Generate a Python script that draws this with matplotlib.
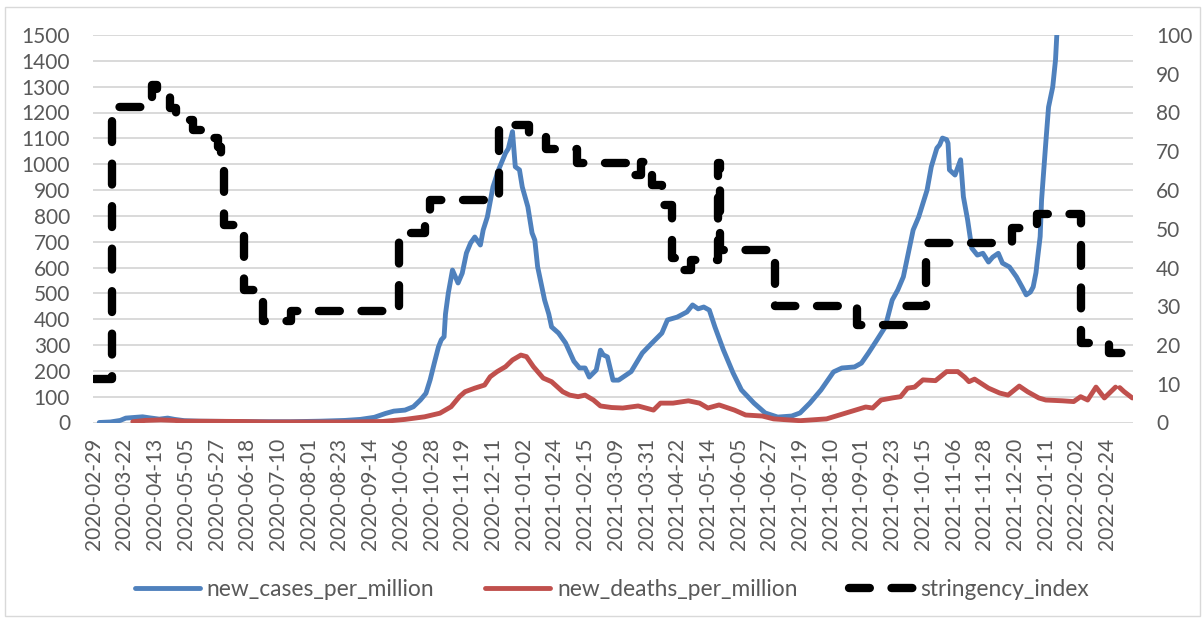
import numpy as np
import matplotlib
matplotlib.use("Agg")
import matplotlib.pyplot as plt
from matplotlib.patches import Rectangle

plt.rcParams['font.family'] = ['Lato', 'DejaVu Sans']

START = np.datetime64('2020-02-29')
END = np.datetime64('2022-03-14')

# new_cases_per_million (x = days since 2020-02-29)
case_days = [4, 12, 19, 23, 30, 35, 40, 47, 53, 58, 65, 76, 98, 119, 141, 162, 180, 191,
             201, 209, 215, 223, 229, 234, 238, 241, 244, 247, 249, 251, 252, 254, 257,
             261, 264, 267, 270, 273, 277, 279, 282, 286, 290, 295, 297, 300, 302, 305,
             307, 311, 314, 316, 318, 321, 323, 326, 328, 333, 338, 344, 348, 352, 355,
             360, 363, 365, 368, 372, 376, 385, 393, 400, 407, 411, 418, 425, 429, 433,
             437, 441, 445, 451, 458, 464, 473, 481, 490, 500, 506, 513, 521, 530, 536,
             545, 550, 555, 561, 567, 572, 576, 580, 583, 587, 591, 597, 600, 604, 606,
             608, 611, 612, 613, 617, 621, 623, 626, 629, 633, 637, 641, 644, 648, 651,
             656, 661, 665, 668, 671, 673, 675, 676, 678, 679, 682, 684, 687, 689, 690,
             692]
case_vals = [0, 2, 8, 17, 20, 22, 18, 13, 17, 12, 7, 5, 4, 3, 3, 5, 8, 12,
             20, 35, 44, 48, 61, 87, 113, 165, 230, 293, 320, 332, 420, 500, 590,
             540, 578, 656, 695, 718, 687, 745, 796, 912, 978, 1043, 1060, 1126, 990, 978,
             912, 835, 734, 706, 603, 525, 474, 420, 370, 346, 308, 237, 211, 211, 176,
             203, 280, 262, 254, 164, 164, 197, 269, 308, 346, 397, 408, 428, 455, 440,
             447, 435, 370, 282, 192, 126, 75, 37, 21, 25, 37, 75, 126, 196, 211,
             215, 230, 269, 319, 370, 474, 513, 564, 641, 745, 796, 900, 990, 1062, 1075,
             1101, 1095, 1081, 978, 958, 1017, 874, 785, 675, 648, 655, 621, 640, 655, 617,
             602, 564, 525, 494, 505, 525, 580, 629, 720, 861, 1081, 1221, 1299, 1404, 1508,
             1650]

# new_deaths_per_million (x = days since 2020-02-29); NaN = missing report
death_days = [28, 37, 48, 58, 64, 76, 105, 126, 148, 184, 207, 223, 237, 248, 256, 262,
              266, 273, 280, 284, 289, 295, 300, 306, 310, 315, 322, 328, 336, 341, 347,
              352, 358, 363, 371, 379, 390, 401, 406, 415, 426, 434, 440, 448, 459, 467,
              479, 487, 506, 525, 539, 553, 558, 564, 572, 578, 583, 588, 594, 603, 611,
              619, 624, 627, 631, 641, 649, 655, 663, 669, 677, 682, 694, 702, 707, 712,
              718, 724, 732, 733, 735, 738, 744]
death_vals = [3, 8, 10, 8, 5, 5, 4, 2, 2, 2, 4, 12, 22, 36, 61, 100,
              119, 133, 145, 177, 197, 216, 242, 261, 255, 216, 172, 158, 119, 106, 100,
              106, 87, 64, 58, 56, 64, 48, 75, 75, 84, 75, 56, 68, 48, 29,
              25, 14, 7, 14, 37, 60, 56, 87, 95, 100, 133, 137, 165, 162, 197,
              197, 175, 158, 168, 133, 114, 106, 141, 119, 95, 87, 84, 81, 100, 87,
              137, 95, 137, np.nan, 135, 120, 95]

# stringency_index: value in force from each listed day (days since 2020-02-29)
stringency_days = [0, 13, 42, 45, 55, 59, 71, 78, 89, 91, 93, 108, 121, 141, 219, 237,
                   241, 290, 312, 324, 346, 382, 392, 400, 407, 414, 421, 428, 447, 449,
                   488, 547, 581, 596, 658, 676, 707, 727, 744]
stringency_vals = [11.1, 81.5, 87.1, 84.3, 81.2, 78.1, 75.5, 73.4, 71.1, 67.0, 51.0, 34.2,
                   26.1, 28.7, 48.9, 54.6, 57.4, 76.8, 74.2, 70.6, 66.9, 63.9, 67.2, 61.3,
                   56.1, 42.4, 39.3, 41.9, 67.0, 44.5, 30.0, 25.2, 30.0, 46.3, 50.2, 53.9,
                   20.5, 17.9, 17.9]

tick_labels = ['2020-02-29', '2020-03-22', '2020-04-13', '2020-05-05', '2020-05-27',
               '2020-06-18', '2020-07-10', '2020-08-01', '2020-08-23', '2020-09-14',
               '2020-10-06', '2020-10-28', '2020-11-19', '2020-12-11', '2021-01-02',
               '2021-01-24', '2021-02-15', '2021-03-09', '2021-03-31', '2021-04-22',
               '2021-05-14', '2021-06-05', '2021-06-27', '2021-07-19', '2021-08-10',
               '2021-09-01', '2021-09-23', '2021-10-15', '2021-11-06', '2021-11-28',
               '2021-12-20', '2022-01-11', '2022-02-02', '2022-02-24']


def to_dates(days):
    return START + np.asarray(days).astype('timedelta64[D]')


BLUE = '#4f81bd'
RED = '#c0504d'
GRID = '#d9d9d9'
TEXT = '#595959'
FS = 15

fig = plt.figure(figsize=(12.04, 6.2), dpi=100)
W, H = 1204, 620
ax = fig.add_axes([93 / W, 1 - 422.5 / H, 1040 / W, 387.5 / H])

ax.plot(to_dates(case_days), case_vals, color=BLUE, lw=3.5,
        solid_joinstyle='round', solid_capstyle='round', label='new_cases_per_million')
ax.plot(to_dates(death_days), death_vals, color=RED, lw=3.5,
        solid_joinstyle='round', solid_capstyle='round', label='new_deaths_per_million')

ax.set_ylim(0, 1500)
ax.set_yticks(np.arange(0, 1501, 100))
ax.grid(axis='y', color=GRID, lw=1.4)
ax.set_axisbelow(True)
ax.set_xlim(START - np.timedelta64(12, 'h'), END + np.timedelta64(12, 'h'))
ax.set_xticks(np.array(tick_labels, dtype='datetime64[D]'))
ax.set_xticklabels(tick_labels, rotation=90, va='top', ha='center')
for s in ax.spines.values():
    s.set_visible(False)
ax.tick_params(axis='y', length=0, pad=16.5, labelsize=FS, labelcolor=TEXT)
ax.tick_params(axis='x', length=0, pad=11, labelsize=FS, labelcolor=TEXT)

ax2 = ax.twinx()
ax2.plot(to_dates(stringency_days), stringency_vals, color='black', lw=6.0,
         drawstyle='steps-post', linestyle=(0, (2.5, 2.6)),
         dash_capstyle='round', dash_joinstyle='round', label='stringency_index')
ax2.set_ylim(0, 100)
ax2.set_yticks(np.arange(0, 101, 10))
for s in ax2.spines.values():
    s.set_visible(False)
ax2.tick_params(axis='y', length=0, pad=16.5, labelsize=FS, labelcolor=TEXT)
ax2.set_xlim(ax.get_xlim())

handles = ax.get_lines() + ax2.get_lines()
fig.legend(handles, [h.get_label() for h in handles], loc='center',
           bbox_to_anchor=(612 / W, 1 - 589 / H), ncol=3, frameon=False,
           fontsize=16.4, labelcolor=TEXT, handlelength=2.85, handletextpad=0.3,
           columnspacing=2.25)

fig.patches.append(Rectangle((4.5 / W, 1 - 615.5 / H), 1195 / W, 609 / H,
                             transform=fig.transFigure, fill=False,
                             edgecolor=GRID, lw=1.0))

fig.savefig('out.png', dpi=100)
